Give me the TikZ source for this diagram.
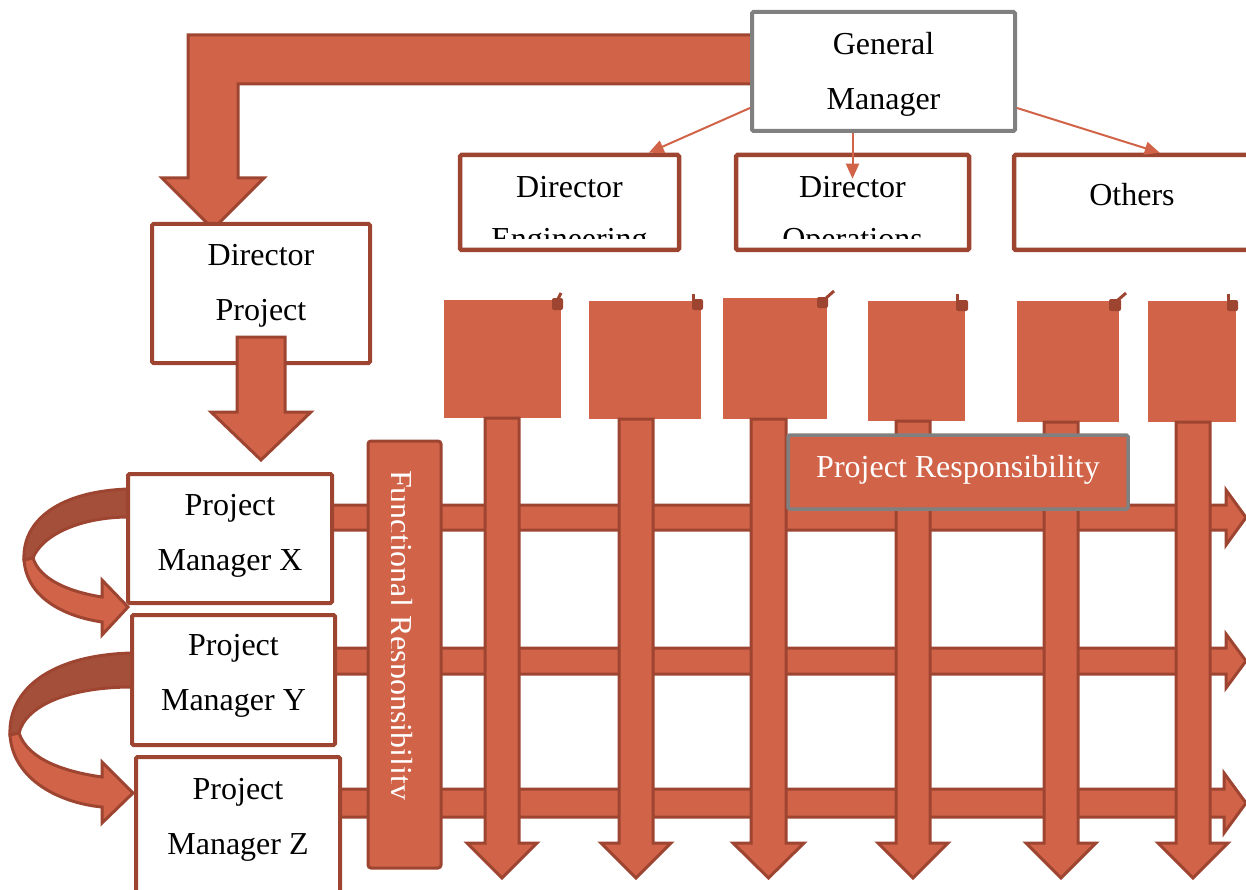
\documentclass[tikz,border=0pt]{standalone}
\usepackage{fontspec}
\setmainfont{Liberation Serif}
\usepackage{tikz}
\usetikzlibrary{arrows.meta}
\usetikzlibrary{calc}
\definecolor{OrgFill}{HTML}{D16349}
\definecolor{OrgEdge}{HTML}{9E4532}
\definecolor{OrgDark}{HTML}{A44F3A}
\definecolor{BoxGray}{HTML}{808080}
\tikzstyle{ChartBox}=[rectangle, draw=OrgEdge, line width=4pt, fill=white, rounded corners=1.5pt, align=center, inner sep=0pt, font=\fontsize{32}{55}\selectfont]
\tikzstyle{TopBox}=[ChartBox, draw=BoxGray]
\tikzstyle{DirBox}=[ChartBox, line width=4.5pt]
\tikzstyle{DirText}=[align=center, inner sep=0pt, font=\fontsize{32}{52}\selectfont]
\tikzstyle{RespBox}=[ChartBox, draw=BoxGray, line width=3.5pt, fill=OrgFill, text=white]
\tikzstyle{BlockArrow}=[fill=OrgFill, draw=OrgEdge, line width=3pt]
\tikzstyle{RibbonBack}=[BlockArrow, fill=OrgDark]
\tikzstyle{ThinEdge}=[-{Triangle[length=15pt, width=13pt]}, line width=2pt, draw=OrgFill]
\tikzstyle{TabMark}=[fill=OrgEdge, rounded corners=2pt]
\tikzstyle{TabStub}=[draw=OrgEdge, line width=3pt]

\begin{document}
\begin{tikzpicture}[x=1pt, y=-1pt]
\useasboundingbox (0,0) rectangle (1246,890);
\clip (0,0) rectangle (1246,890);

\draw[BlockArrow] (760,35) -- (188,35) -- (188,178) -- (162,178) -- (213,229) -- (264,178) -- (238,178) -- (238,84) -- (760,84) -- cycle;

\node[TopBox, minimum width=263pt, text height=98pt, text depth=21pt](gm) at (883.5,71.5) {General\\Manager};
\node[DirBox, minimum width=219pt, minimum height=95pt](deng) at (569.5,202.5) {};
\node[DirBox, minimum width=233pt, minimum height=95pt](dops) at (852.5,202.5) {};
\node[DirBox, minimum width=236pt, text height=51pt, text depth=44pt](other) at (1132,202.5) {Others};

\begin{scope}
\clip (460,157) rectangle (969,239);
\node[DirText, text height=94pt, anchor=north](dengtext) at (569.5,155) {Director\\Engineering};
\node[DirText, text height=94pt, anchor=north](dopstext) at (852.5,155) {Director\\Operations};
\end{scope}

\draw[ThinEdge] ($(gm.south west)+(0,-25)$) -- ($(deng.north west)+(191,0)$);
\draw[ThinEdge] (gm.south -| dops.north) -- ($(dops.north)+(0,26)$);
\draw[ThinEdge] ($(gm.south east)+(0,-25)$) -- ($(other.north west)+(148,0)$);

\node[ChartBox, minimum width=218pt, text height=96pt, text depth=43pt](dproj) at (261,293.5) {Director\\Project};
\draw[BlockArrow] (237,337) -- (285,337) -- (285,412) -- (311,412) -- (261,460) -- (211,412) -- (237,412) -- cycle;

\draw[BlockArrow] (320,505) -- (1226,505) -- (1226,490) -- (1246,517.5) -- (1226,545) -- (1226,530) -- (320,530) -- cycle;
\draw[BlockArrow] (320,648) -- (1226,648) -- (1226,634) -- (1246,661) -- (1226,688) -- (1226,674) -- (320,674) -- cycle;
\draw[BlockArrow] (320,789) -- (1224,789) -- (1224,773) -- (1246,803) -- (1224,833) -- (1224,817) -- (320,817) -- cycle;

\draw[RibbonBack] (129,489) .. controls (60,491) and (22,520) .. (24,560) -- (33,558) .. controls (42,535) and (80,517) .. (129,517) -- cycle;
\draw[BlockArrow] (24,560) .. controls (27,600) and (68,617) .. (102,622) -- (102,635) -- (128,607) -- (102,580) -- (102,597) .. controls (70,592) and (40,580) .. (33,558) -- cycle;
\draw[RibbonBack] (132,653) .. controls (50,655) and (8,690) .. (10,735) -- (19,733) .. controls (26,705) and (70,687) .. (132,687) -- cycle;
\draw[BlockArrow] (10,735) .. controls (13,780) and (60,803) .. (102,807) -- (102,823) -- (133,793) -- (102,762) -- (102,777) .. controls (66,772) and (28,760) .. (19,733) -- cycle;

\node[ChartBox, minimum width=204pt, text height=96pt, text depth=33pt](pmx) at (230,538.5) {Project\\Manager X};
\node[ChartBox, minimum width=203pt, text height=95pt, text depth=35pt](pmy) at (233.5,680) {Project\\Manager Y};
\node[ChartBox, minimum width=204pt, text height=97pt, text depth=51pt](pmz) at (238,831) {Project\\Manager Z};

\draw[BlockArrow, rounded corners=3pt] (368,441) rectangle (441,868);
\begin{scope}
\clip (391,441) rectangle (441,868);
\node[rotate=-90, anchor=base west, inner sep=0pt, text=white, font=\fontsize{32}{55}\selectfont](functext) at (390,470) {Functional Responsibility};
\end{scope}

\fill[OrgFill] (444,300) rectangle (561,418);
\fill[OrgFill] (589,301) rectangle (701,419);
\fill[OrgFill] (723,298) rectangle (827,419);
\fill[OrgFill] (868,301) rectangle (965,421);
\fill[OrgFill] (1017,301) rectangle (1119,422);
\fill[OrgFill] (1148,301) rectangle (1236,422);

\fill[TabMark] (552,298) rectangle (563,310);
\draw[TabStub] (557,301) -- (561,293);
\fill[TabMark] (692,299) rectangle (703,310);
\draw[TabStub] (693.5,294) -- (693.5,301);
\fill[TabMark] (817,297) rectangle (828,308);
\draw[TabStub] (825,299) -- (834,291);
\fill[TabMark] (956,300) rectangle (968,311);
\draw[TabStub] (957.5,294) -- (957.5,301);
\fill[TabMark] (1109,299) rectangle (1121,311);
\draw[TabStub] (1118,300) -- (1126,293);
\fill[TabMark] (1227,300) rectangle (1238,311);
\draw[TabStub] (1228.5,294) -- (1228.5,301);

\draw[BlockArrow] (485,418) -- (519,418) -- (519,843) -- (537,843) -- (502,878) -- (467,843) -- (485,843) -- cycle;
\draw[BlockArrow] (619,419) -- (653,419) -- (653,843) -- (671,843) -- (636,878) -- (601,843) -- (619,843) -- cycle;
\draw[BlockArrow] (751,419) -- (786,419) -- (786,843) -- (804,843) -- (768.5,878) -- (733,843) -- (751,843) -- cycle;
\draw[BlockArrow] (896,421) -- (930,421) -- (930,843) -- (948,843) -- (913,878) -- (878,843) -- (896,843) -- cycle;
\draw[BlockArrow] (1044,422) -- (1078,422) -- (1078,843) -- (1096,843) -- (1061,878) -- (1026,843) -- (1044,843) -- cycle;
\draw[BlockArrow] (1176,422) -- (1210,422) -- (1210,843) -- (1228,843) -- (1193,878) -- (1158,843) -- (1176,843) -- cycle;

\node[RespBox, minimum width=340pt, text height=42pt, text depth=32pt](presp) at (958,472) {Project Responsibility};

\end{tikzpicture}
\end{document}
